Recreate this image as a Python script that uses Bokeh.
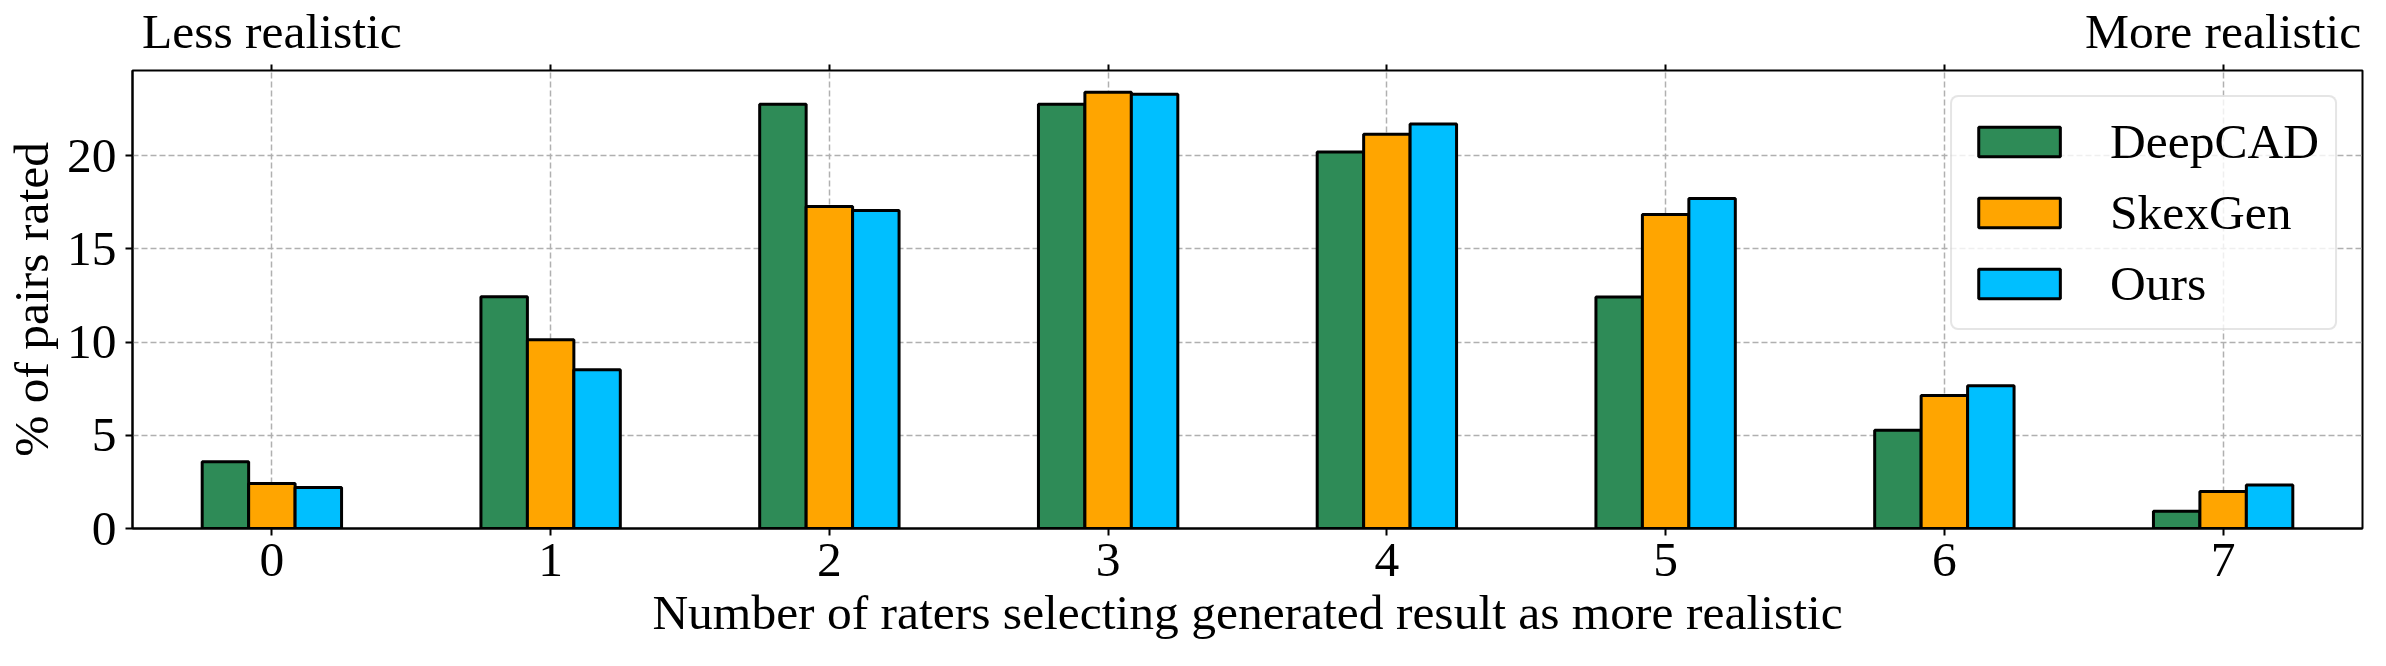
from bokeh.plotting import figure
from bokeh.models import (ColumnDataSource, Range1d, LinearAxis, FixedTicker)
from bokeh.transform import dodge
from bokeh.embed import file_html
from bokeh.resources import INLINE

# ---- data ----
raters = [0, 1, 2, 3, 4, 5, 6, 7]
deepcad = [3.58, 12.43, 22.76, 22.76, 20.20, 12.42, 5.27, 0.93]
skexgen = [2.42, 10.12, 17.28, 23.40, 21.15, 16.85, 7.13, 1.98]
ours = [2.20, 8.51, 17.06, 23.30, 21.70, 17.70, 7.66, 2.34]
series_names = ["DeepCAD", "SkexGen", "Ours"]
series_colors = ["#2e8b57", "#ffa500", "#00bfff"]
y_ticks = [0, 5, 10, 15, 20]
x_label = "Number of raters selecting generated result as more realistic"
y_label = "% of pairs rated"
left_note = "Less realistic"
right_note = "More realistic"

FONT = "Liberation Serif"
FS = "49.5px"

src = ColumnDataSource(dict(x=raters, DeepCAD=deepcad, SkexGen=skexgen, Ours=ours))

ymax = max(deepcad + skexgen + ours) * 1.05

p = figure(width=2370, height=650, output_backend="svg", toolbar_location=None,
           x_range=Range1d(-0.5, 7.5), y_range=Range1d(0, ymax),
           min_border_left=125, min_border_right=8, min_border_top=66, min_border_bottom=122,
           x_axis_label=x_label, y_axis_label=y_label)
p.background_fill_color = "white"
p.border_fill_color = "white"
p.outline_line_color = "black"
p.outline_line_width = 2

bw = 1.0 / 6.0
offsets = [-bw, 0.0, bw]
for name, col, off in zip(series_names, series_colors, offsets):
    p.vbar(x=dodge("x", off, range=p.x_range), top=name, width=bw, bottom=0, source=src,
           fill_color=col, line_color="black", line_width=3, legend_label=name)

# axes
xa = p.xaxis[0]
xa.ticker = FixedTicker(ticks=raters)
ya = p.yaxis[0]
ya.ticker = FixedTicker(ticks=y_ticks)
for ax in (xa, ya):
    ax.axis_line_width = 2
    ax.axis_line_color = "black"
    ax.major_tick_out = 7
    ax.major_tick_in = 0
    ax.major_tick_line_width = 2
    ax.minor_tick_line_color = None
    ax.major_label_text_font = FONT
    ax.major_label_text_font_size = FS
    ax.major_label_text_color = "black"
    ax.axis_label_text_font = FONT
    ax.axis_label_text_font_size = FS
    ax.axis_label_text_font_style = "normal"
    ax.axis_label_text_color = "black"
xa.major_label_standoff = 8
xa.axis_label_standoff = 6
ya.major_label_standoff = 9
ya.axis_label_standoff = 5

# top axis: end labels, tick marks at every rater count
top_ax = LinearAxis(ticker=FixedTicker(ticks=[raters[0], raters[-1]], minor_ticks=raters[1:-1]))
top_ax.major_label_overrides = {raters[0]: left_note, raters[-1]: right_note}
top_ax.major_tick_out = 6
top_ax.major_tick_in = 0
top_ax.major_tick_line_width = 2
top_ax.minor_tick_out = 6
top_ax.minor_tick_in = 0
top_ax.minor_tick_line_width = 2
top_ax.minor_tick_line_color = "black"
top_ax.major_label_text_font = FONT
top_ax.major_label_text_font_size = FS
top_ax.major_label_text_color = "black"
top_ax.major_label_standoff = 6
top_ax.axis_line_color = None
p.add_layout(top_ax, "above")

# grid
for g in (p.xgrid[0], p.ygrid[0]):
    g.grid_line_color = "#b0b0b0"
    g.grid_line_dash = "6 3"
    g.grid_line_width = 1.5
p.ygrid[0].ticker = FixedTicker(ticks=y_ticks)
p.xgrid[0].ticker = FixedTicker(ticks=raters)

# legend
lg = p.legend[0]
lg.location = "top_right"
lg.margin = 25
lg.padding = 16
lg.spacing = 14
lg.glyph_width = 102
lg.glyph_height = 37
lg.label_height = 57
lg.label_standoff = 40
lg.label_text_font = FONT
lg.label_text_font_size = FS
lg.label_text_color = "black"
lg.border_line_color = "#cccccc"
lg.border_line_width = 2
lg.background_fill_alpha = 0.8
try:
    lg.border_radius = 8
except Exception:
    pass

open("out.html", "w").write(file_html(p, INLINE))
